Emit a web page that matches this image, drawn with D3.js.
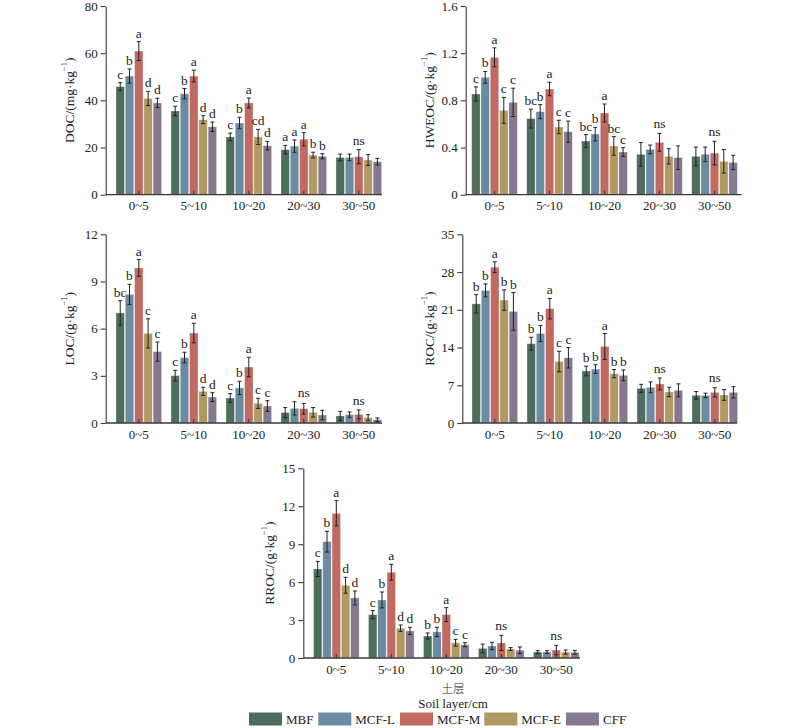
<!DOCTYPE html>
<html><head><meta charset="utf-8">
<script src="https://cdn.jsdelivr.net/npm/d3@7"></script>
<style>
html,body{margin:0;padding:0;background:#fff;}
svg{display:block;font-family:"Liberation Serif","DejaVu Serif",serif;}
</style></head>
<body><svg id="c" width="800" height="728"></svg>
<script>
const categories = ["0~5","5~10","10~20","20~30","30~50"];
const series = ["MBF","MCF-L","MCF-M","MCF-E","CFF"];
const colors = ["#4f6d5d","#6a8ba2","#c06a62","#b09a63","#86788f"];

// rows = soil layers, columns = series
const docMean = [[45.8,50.3,60.9,40.8,38.9],[35.5,42.8,50.3,31.8,28.8],[24.5,30.4,38.9,24.5,20.8],[19.1,20.6,23.5,16.8,16.3],[15.8,15.8,16.1,14.7,14.0]];
const docErr  = [[1.7,3.0,4.0,3.0,2.0],[2.0,2.2,2.5,1.7,2.0],[1.6,2.4,2.1,3.2,1.8],[1.8,2.6,2.8,1.2,1.1],[1.4,1.4,3.0,2.3,1.4]];
const docSig  = [["c","b","a","d","d"],["c","b","a","d","d"],["c","b","a","cd","d"],["a","a","a","b","b"],"ns"];
const docTicks = [0,20,40,60,80];

const hweocMean = [[0.854,0.995,1.165,0.715,0.783],[0.645,0.704,0.896,0.574,0.534],[0.455,0.514,0.693,0.413,0.362],[0.342,0.384,0.444,0.325,0.314],[0.325,0.342,0.353,0.283,0.274]];
const hweocErr  = [[0.06,0.05,0.08,0.11,0.12],[0.08,0.06,0.057,0.057,0.09],[0.054,0.057,0.076,0.079,0.037],[0.10,0.037,0.076,0.065,0.10],[0.079,0.062,0.10,0.10,0.06]];
const hweocSig  = [["c","b","a","c","c"],["bc","b","a","c","c"],["bc","b","a","bc","c"],"ns","ns"];
const hweocTicks = [0,0.4,0.8,1.2,1.6];

const locMean = [[7.0,8.18,9.86,5.70,4.54],[3.01,4.16,5.72,2.01,1.65],[1.59,2.23,3.56,1.25,1.08],[0.66,0.93,0.91,0.68,0.51],[0.45,0.53,0.55,0.34,0.21]];
const locErr  = [[0.78,0.64,0.53,0.93,0.61],[0.34,0.34,0.62,0.26,0.28],[0.28,0.42,0.62,0.32,0.34],[0.32,0.42,0.34,0.30,0.30],[0.29,0.17,0.28,0.19,0.11]];
const locSig  = [["bc","b","a","c","c"],["c","b","a","d","d"],["c","b","a","c","c"],"ns","ns"];
const locTicks = [0,3,6,9,12];

const rocMean = [[22.1,24.6,28.9,22.8,20.7],[14.7,16.6,21.2,11.4,12.1],[9.65,10.0,14.2,9.15,8.84],[6.43,6.62,7.24,5.75,6.06],[5.13,5.13,5.69,5.2,5.69]];
const rocErr  = [[1.7,1.2,1.0,1.9,3.5],[1.2,1.5,1.9,1.9,1.9],[0.9,0.8,2.4,0.75,1.0],[0.74,1.0,1.1,0.87,1.2],[0.7,0.4,0.86,1.0,1.05]];
const rocSig  = [["b","b","a","b","b"],["b","b","a","c","c"],["b","b","a","b","b"],"ns","ns"];
const rocTicks = [0,7,14,21,28,35];

const rrocMean = [[7.04,9.2,11.44,5.75,4.75],[3.43,4.59,6.78,2.35,2.14],[1.74,2.06,3.43,1.21,1.05],[0.76,0.95,1.19,0.71,0.61],[0.47,0.47,0.63,0.47,0.45]];
const rrocErr  = [[0.6,0.82,1.0,0.63,0.55],[0.32,0.63,0.63,0.26,0.29],[0.24,0.37,0.55,0.27,0.16],[0.34,0.29,0.6,0.11,0.26],[0.11,0.11,0.37,0.16,0.15]];
const rrocSig  = [["c","b","a","d","d"],["c","b","a","d","d"],["b","b","a","c","c"],"ns","ns"];
const rrocTicks = [0,3,6,9,12,15];

const svg = d3.select("#c");
const ink = "#222";
const axisCol = "#3a3a3a";

function panel(cfg){
  const g = svg.append("g");
  const y = d3.scaleLinear().domain([0, cfg.ticks[cfg.ticks.length-1]]).range([cfg.bottom, cfg.top]);
  const step = 55;
  const x0 = d3.scaleBand().domain(categories)
      .range([cfg.firstCenter - step/2, cfg.firstCenter - step/2 + step*categories.length])
      .paddingInner(0.17).paddingOuter(0.085);
  const x1 = d3.scaleBand().domain(series).range([0, x0.bandwidth()]).paddingInner(0.09);

  categories.forEach((cat, gi) => {
    const gg = g.append("g").attr("transform", `translate(${x0(cat)},0)`);
    series.forEach((s, si) => {
      const v = cfg.mean[gi][si], e = cfg.err[gi][si];
      const bx = x1(s), bw = x1.bandwidth();
      gg.append("rect").attr("x", bx).attr("y", y(v)).attr("width", bw)
        .attr("height", y(0) - y(v)).attr("fill", colors[si])
        .attr("stroke", "rgba(255,255,255,0.45)").attr("stroke-width", 0.7);
      const cx = bx + bw/2;
      gg.append("line").attr("x1", cx).attr("x2", cx).attr("y1", y(v-e)).attr("y2", y(v+e))
        .attr("stroke", ink).attr("stroke-width", 1);
      [v-e, v+e].forEach(t => gg.append("line").attr("x1", cx-2).attr("x2", cx+2)
        .attr("y1", y(t)).attr("y2", y(t)).attr("stroke", ink).attr("stroke-width", 1));
      const sig = cfg.sig[gi];
      if (Array.isArray(sig)) {
        gg.append("text").attr("x", cx).attr("y", y(v+e) - 4).attr("text-anchor","middle")
          .attr("font-size", 13.5).attr("fill", ink).text(sig[si]);
      }
    });
    if (!Array.isArray(cfg.sig[gi])) {
      const top = d3.max(series.map((s, si) => cfg.mean[gi][si] + cfg.err[gi][si]));
      gg.append("text").attr("x", x0.bandwidth()/2).attr("y", y(top) - 5).attr("text-anchor","middle")
        .attr("font-size", 13.5).attr("fill", ink).text(cfg.sig[gi]);
    }
  });

  const ya = g.append("g").attr("transform", `translate(${cfg.axisX},0)`)
    .call(d3.axisLeft(y).tickValues(cfg.ticks).tickSizeInner(5).tickSizeOuter(0).tickPadding(3)
      .tickFormat(d => d3.format("~g")(d)));
  ya.selectAll("path,line").attr("stroke", axisCol).attr("stroke-width", 1.1);
  ya.selectAll("text").attr("font-size", 13).attr("fill", ink).attr("font-family", "Liberation Serif");

  const xa = g.append("g").attr("transform", `translate(0,${cfg.bottom})`)
    .call(d3.axisBottom(x0).tickSizeInner(-4).tickSizeOuter(0).tickPadding(6.5));
  xa.select(".domain").remove();
  xa.selectAll("line").attr("stroke", axisCol).attr("stroke-width", 1.1);
  xa.selectAll("text").attr("font-size", 13).attr("fill", ink).attr("font-family", "Liberation Serif");
  g.append("line").attr("x1", cfg.axisX).attr("x2", cfg.axisEnd).attr("y1", cfg.bottom).attr("y2", cfg.bottom)
    .attr("stroke", axisCol).attr("stroke-width", 1.3);

  const t = g.append("text").attr("transform", `translate(${cfg.titleX},${(cfg.top+cfg.bottom)/2}) rotate(-90)`)
    .attr("text-anchor","middle").attr("font-size", 13.5).attr("fill", ink).attr("dominant-baseline","central");
  t.append("tspan").text(cfg.title + "/(" + cfg.unit + "·kg");
  t.append("tspan").attr("font-size", 8.5).attr("baseline-shift", "super").text("−1");
  t.append("tspan").text(")");
  return {x0, y};
}

panel({mean: docMean, err: docErr, sig: docSig, ticks: docTicks, title: "DOC", unit: "mg",
  axisX: 105.7, axisEnd: 382, top: 6, bottom: 194.7, firstCenter: 138.8, titleX: 69});
panel({mean: hweocMean, err: hweocErr, sig: hweocSig, ticks: hweocTicks, title: "HWEOC", unit: "g",
  axisX: 465.7, axisEnd: 741.7, top: 6, bottom: 194.7, firstCenter: 494.5, titleX: 429});
panel({mean: locMean, err: locErr, sig: locSig, ticks: locTicks, title: "LOC", unit: "g",
  axisX: 105.7, axisEnd: 382, top: 234.3, bottom: 423, firstCenter: 138.8, titleX: 69});
panel({mean: rocMean, err: rocErr, sig: rocSig, ticks: rocTicks, title: "ROC", unit: "g",
  axisX: 462.3, axisEnd: 737, top: 234.3, bottom: 423, firstCenter: 494.8, titleX: 429});
panel({mean: rrocMean, err: rrocErr, sig: rrocSig, ticks: rrocTicks, title: "RROC", unit: "g",
  axisX: 303.3, axisEnd: 580, top: 468.3, bottom: 658, firstCenter: 336.3, titleX: 269});

svg.append("text").attr("x", 453).attr("y", 687.5).attr("text-anchor","middle").attr("dominant-baseline","central")
  .attr("font-size", 11.5).attr("fill", ink).attr("font-family", "Noto Sans CJK SC").attr("font-weight", 300).text("土层");
svg.append("text").attr("x", 453).attr("y", 703).attr("text-anchor","middle").attr("dominant-baseline","central")
  .attr("font-size", 13).attr("fill", ink).text("Soil layer/cm");

const legendX = [249, 318.3, 400, 484.3, 566];
const lg = svg.append("g");
series.forEach((s, i) => {
  lg.append("rect").attr("x", legendX[i]).attr("y", 712.5).attr("width", 33).attr("height", 13).attr("fill", colors[i]);
  lg.append("text").attr("x", legendX[i] + 37).attr("y", 719.5).attr("dominant-baseline","central")
    .attr("font-size", 13).attr("fill", ink).text(s);
});
</script></body></html>
